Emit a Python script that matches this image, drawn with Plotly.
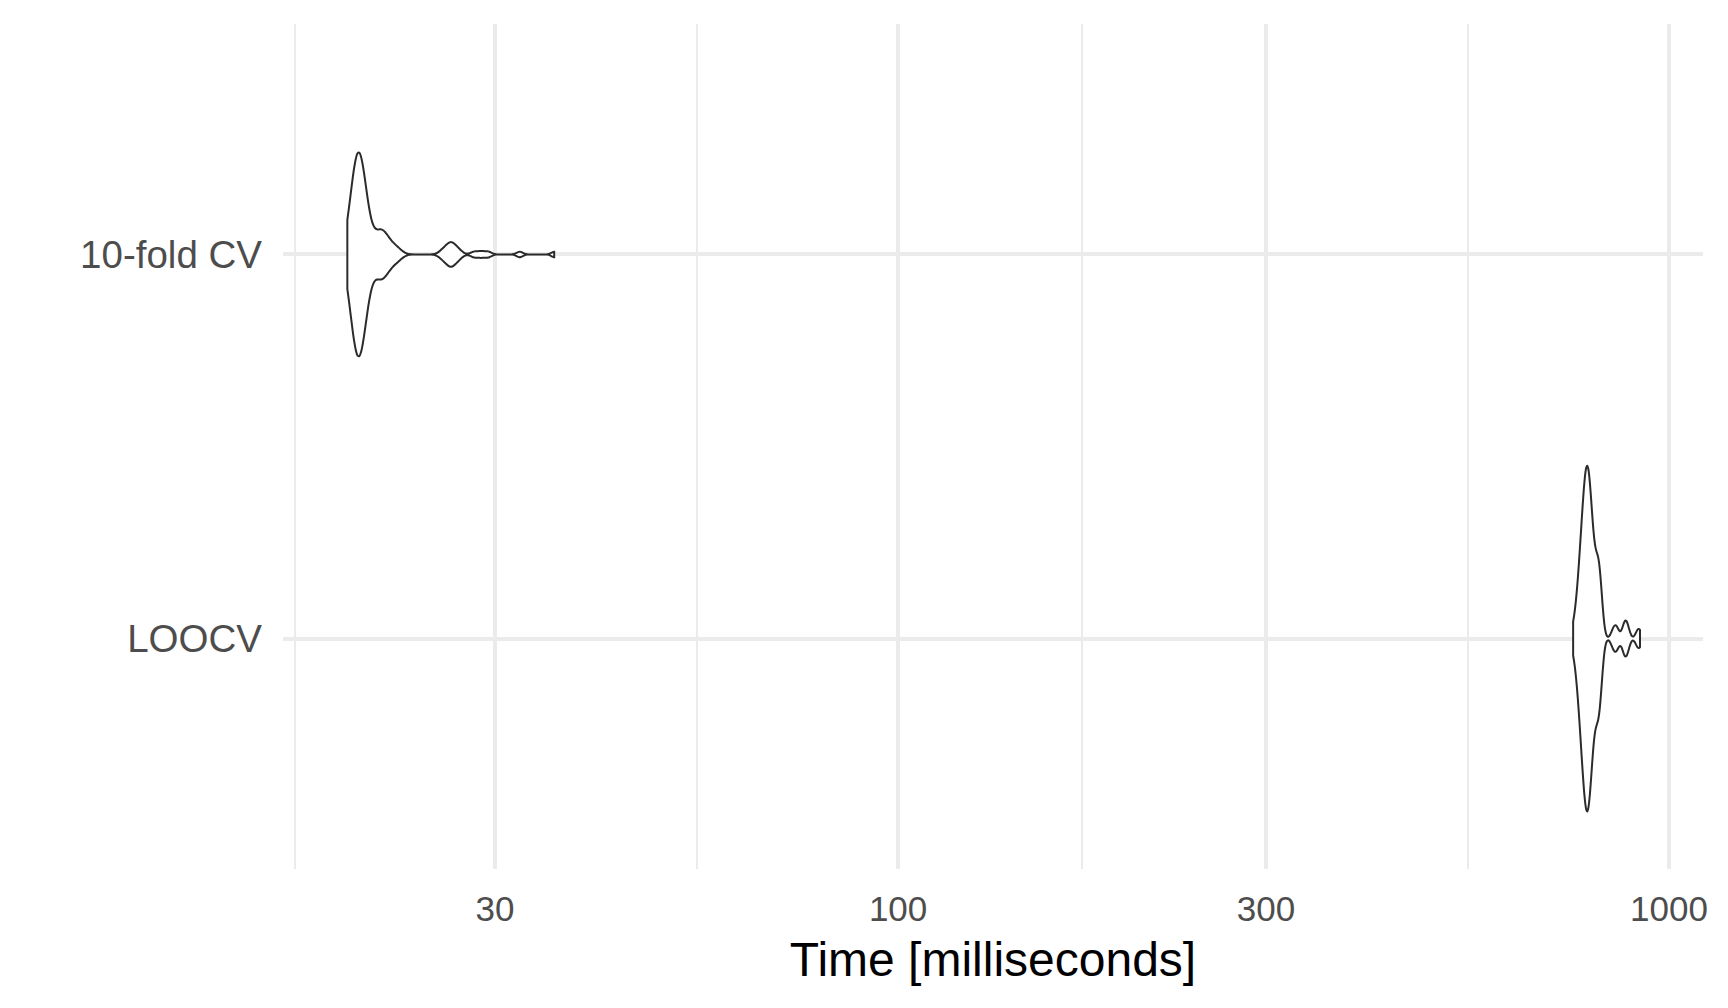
import plotly.graph_objects as go

# Benchmark timings in milliseconds
methods = ["10-fold CV", "LOOCV"]

kfold_ms = [
    19.3,
    19.4, 19.4,
    19.5, 19.5, 19.5,
    19.6, 19.6, 19.6, 19.6,
    19.7, 19.7, 19.7, 19.7, 19.7,
    19.8, 19.8, 19.8, 19.8, 19.8, 19.8,
    19.9, 19.9, 19.9, 19.9, 19.9, 19.9,
    20.0, 20.0, 20.0, 20.0, 20.0, 20.0, 20.0,
    20.1, 20.1, 20.1, 20.1, 20.1, 20.1,
    20.2, 20.2, 20.2, 20.2, 20.2,
    20.3, 20.3, 20.3, 20.3,
    20.4, 20.4, 20.4,
    20.5, 20.5,
    20.6,
    # right shoulder
    20.5, 20.7, 20.8, 20.9, 21.0, 21.1, 21.2, 21.3, 21.3, 21.4,
    21.5, 21.5, 21.6, 21.7, 21.8, 22.0, 22.1, 22.3, 22.6,
    # second bump
    25.6, 25.9, 26.1, 26.3, 26.3, 26.5, 26.7, 27.0,
    # tail
    28.2, 28.8, 29.4, 32.3, 35.8,
]

loocv_ms = [
    751, 756,
    760, 761, 762,
    765, 766, 766, 767, 768,
    770, 770, 771, 771, 772, 772, 773,
    775, 775, 776, 776, 776, 777, 777, 778, 778,
    779, 780, 780, 781, 781, 781, 782, 782, 783, 783, 783,
    784, 785, 785, 786, 786, 786, 787, 787, 788, 788,
    789, 790, 790, 791, 791, 792, 792, 793, 793,
    794, 795, 796, 797, 797, 798,
    800, 801, 802, 803,
    805, 807,
    811, 816,
    # shoulder
    806, 808, 809, 810, 811, 812, 813, 814, 816, 818,
    # wiggles and tail
    846, 852, 857,
    873, 877, 880, 885,
    910, 917,
]

bandwidths = [0.3, 6.5]
widths = [0.53, 0.90]

major_ticks = [30, 100, 300, 1000]
minor_ticks = [16.5, 54.8, 173, 548]

fig = go.Figure()
for name, vals, bw, w in zip(methods, [kfold_ms, loocv_ms], bandwidths, widths):
    fig.add_trace(go.Violin(
        x=vals,
        y=[name] * len(vals),
        orientation="h",
        name=name,
        bandwidth=bw,
        spanmode="hard",
        scalemode="width",
        width=w,
        points=False,
        box_visible=False,
        meanline_visible=False,
        line=dict(color="#2b2b2b", width=2),
        fillcolor="white",
        showlegend=False,
        hoverinfo="skip",
    ))

# the page body adds an 8px margin, so the figure is 8px smaller
fig.update_layout(
    width=1720,
    height=1000,
    margin=dict(l=275, r=25, t=16, b=139),
    paper_bgcolor="white",
    plot_bgcolor="white",
    violinmode="overlay",
    font=dict(family="Liberation Sans, Arial, sans-serif", color="#4D4D4D"),
)

fig.update_xaxes(
    type="log",
    range=[1.2021, 3.0441],
    tickmode="array",
    tickvals=major_ticks,
    ticktext=[str(t) for t in major_ticks],
    tickfont=dict(size=35, color="#4D4D4D"),
    ticks="",
    ticklabelstandoff=16,
    showgrid=True,
    gridcolor="#EBEBEB",
    gridwidth=4,
    minor=dict(tickvals=minor_ticks, showgrid=True, gridcolor="#EBEBEB", gridwidth=2, ticks=""),
    zeroline=False,
    showline=False,
    title=dict(text="Time [milliseconds]", font=dict(size=48, color="black"), standoff=15),
)

fig.update_yaxes(
    type="category",
    categoryorder="array",
    categoryarray=methods,
    range=[1.6, -0.6],
    tickfont=dict(size=38.5, color="#4D4D4D"),
    ticks="",
    ticklabelstandoff=20,
    showgrid=True,
    gridcolor="#EBEBEB",
    gridwidth=4,
    zeroline=False,
    showline=False,
)

fig.write_html("out.html")
